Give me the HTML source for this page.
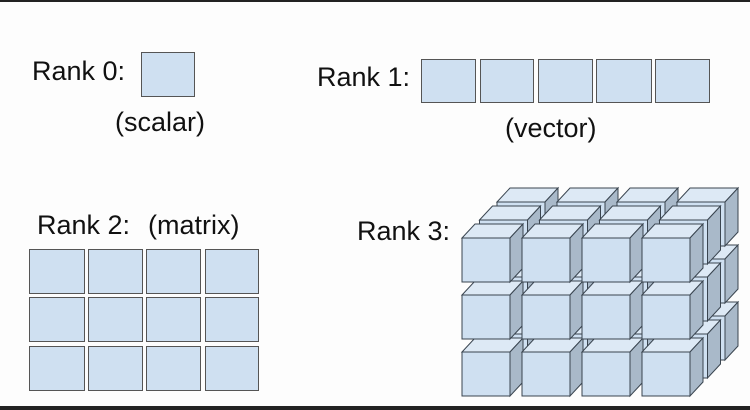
<!DOCTYPE html>
<html><head><meta charset="utf-8"><style>
html,body{margin:0;padding:0;background:#fdfdfd;}
svg{display:block;}
text{font-family:"Liberation Sans",Arial,sans-serif;font-size:27px;fill:#111;}
</style></head><body>
<svg width="750" height="410" viewBox="0 0 750 410" xmlns="http://www.w3.org/2000/svg">
<defs>
<g id="cb">
<polygon points="0,0 13,-14 61,-14 48,0" fill="#dde9f5" stroke="#3a4550" stroke-width="1"/>
<polygon points="48,0 61,-14 61,30 48,44" fill="#a9b9c9" stroke="#3a4550" stroke-width="1"/>
<rect x="0" y="0" width="48" height="44" fill="#cfe0f1" stroke="#3a4550" stroke-width="1"/>
</g>
</defs>
<rect x="0" y="0" width="750" height="2" fill="#222"/>
<rect x="0" y="406" width="750" height="4" fill="#222"/>
<g fill="#cfe0f1" stroke="#555" stroke-width="1">
<rect x="141.5" y="52.5" width="53" height="44"/>
<rect x="421.5" y="59.5" width="54" height="43"/>
<rect x="480.5" y="59.5" width="53" height="43"/>
<rect x="538.5" y="59.5" width="54" height="43"/>
<rect x="596.5" y="59.5" width="55" height="43"/>
<rect x="655.5" y="59.5" width="54" height="43"/>
<rect x="29.5" y="249.5" width="55" height="44"/><rect x="88.5" y="249.5" width="54" height="44"/><rect x="146.5" y="249.5" width="54" height="44"/><rect x="205.5" y="249.5" width="53" height="44"/>
<rect x="29.5" y="297.5" width="55" height="44"/><rect x="88.5" y="297.5" width="54" height="44"/><rect x="146.5" y="297.5" width="54" height="44"/><rect x="205.5" y="297.5" width="53" height="44"/>
<rect x="29.5" y="346.5" width="55" height="44"/><rect x="88.5" y="346.5" width="54" height="44"/><rect x="146.5" y="346.5" width="54" height="44"/><rect x="205.5" y="346.5" width="53" height="44"/>
</g>
<text x="32" y="80">Rank 0:</text>
<text x="115" y="131">(scalar)</text>
<text x="317" y="86">Rank 1:</text>
<text x="505" y="137">(vector)</text>
<text x="37" y="234">Rank 2:</text>
<text x="148" y="234">(matrix)</text>
<text x="357" y="240">Rank 3:</text>
<use href="#cb" x="497" y="316"/><use href="#cb" x="557" y="316"/><use href="#cb" x="617" y="316"/><use href="#cb" x="677" y="316"/>
<use href="#cb" x="497" y="259"/><use href="#cb" x="557" y="259"/><use href="#cb" x="617" y="259"/><use href="#cb" x="677" y="259"/>
<use href="#cb" x="497" y="202"/><use href="#cb" x="557" y="202"/><use href="#cb" x="617" y="202"/><use href="#cb" x="677" y="202"/>
<use href="#cb" x="479.5" y="334"/><use href="#cb" x="539.5" y="334"/><use href="#cb" x="599.5" y="334"/><use href="#cb" x="659.5" y="334"/>
<use href="#cb" x="479.5" y="277"/><use href="#cb" x="539.5" y="277"/><use href="#cb" x="599.5" y="277"/><use href="#cb" x="659.5" y="277"/>
<use href="#cb" x="479.5" y="220"/><use href="#cb" x="539.5" y="220"/><use href="#cb" x="599.5" y="220"/><use href="#cb" x="659.5" y="220"/>
<use href="#cb" x="462" y="352"/><use href="#cb" x="522" y="352"/><use href="#cb" x="582" y="352"/><use href="#cb" x="642" y="352"/>
<use href="#cb" x="462" y="295"/><use href="#cb" x="522" y="295"/><use href="#cb" x="582" y="295"/><use href="#cb" x="642" y="295"/>
<use href="#cb" x="462" y="238"/><use href="#cb" x="522" y="238"/><use href="#cb" x="582" y="238"/><use href="#cb" x="642" y="238"/>
</svg>
</body></html>
